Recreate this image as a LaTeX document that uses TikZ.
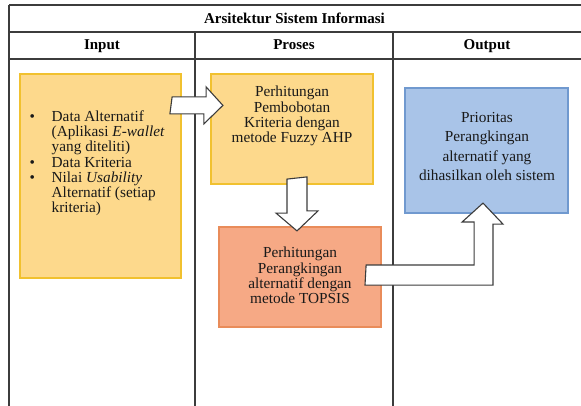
\documentclass[tikz,border=0pt]{standalone}
\usepackage{fontspec}
\setmainfont{Liberation Serif}
\usepackage{tikz}
\usetikzlibrary{calc}
\definecolor{gridline}{HTML}{3C3C3C}
\definecolor{inpfill}{HTML}{FDD98C}
\definecolor{inpdraw}{HTML}{F1C12F}
\definecolor{topfill}{HTML}{F6A985}
\definecolor{topdraw}{HTML}{E98C5A}
\definecolor{outfill}{HTML}{A9C4E8}
\definecolor{outdraw}{HTML}{7099CF}

\tikzset{
  gridrule/.style={draw=gridline, line width=1.1pt},
  headtext/.style={anchor=base, font=\fontsize{15}{15}\selectfont\bfseries},
  stagebox/.style={rectangle, line width=2.2pt, inner sep=0pt},
  stagetext/.style={align=center, font=\fontsize{15.3}{15.2}\selectfont, text=black!90},
  blockarrow/.style={draw=gridline, fill=white, line width=1.1pt, line join=miter}
}

\begin{document}
\begin{tikzpicture}[x=1pt, y=-1pt]
  \useasboundingbox (0,0) rectangle (581,406);

  % Tabel
  \draw[gridrule] (9,5) -- (581,5);
  \draw[gridrule] (9,32) -- (581,32);
  \draw[gridrule] (9,59) -- (581,59);
  \draw[gridrule] (9,5) -- (9,406);
  \foreach \xx in {195,393}
    \draw[gridrule] (\xx,32) -- (\xx,406);

  % Judul dan kolom
  \node[headtext] (judul) at (294.5,23.5) {Arsitektur Sistem Informasi};
  \node[headtext] (hinput) at (102,49.5) {Input};
  \node[headtext] (hproses) at (294,49.5) {Proses};
  \node[headtext] (houtput) at (487,49.5) {Output};

  % Kotak tahapan
  \node[stagebox, fill=inpfill, draw=inpdraw, minimum width=161pt, minimum height=204pt] (inp) at (100.5,176) {};
  \node[stagebox, fill=inpfill, draw=inpdraw, minimum width=162pt, minimum height=110pt] (p1) at (292,129) {};
  \node[stagebox, fill=topfill, draw=topdraw, minimum width=162pt, minimum height=100pt] (p2) at (300,277) {};
  \node[stagebox, fill=outfill, draw=outdraw, minimum width=163pt, minimum height=125pt] (out) at (486.5,150.5) {};

  % Isi kotak
  \node[anchor=west, font=\fontsize{15.3}{15.2}\selectfont, text=black!90, inner sep=0pt] (tinp) at (29.5,164) {%
    \begin{tabular}{@{}p{22pt}@{}l@{}}
      \textbullet & Data Alternatif\\
                  & (Aplikasi \textit{E-wallet}\\
                  & yang diteliti)\\
      \textbullet & Data Kriteria\\
      \textbullet & Nilai \textit{Usability}\\
                  & Alternatif (setiap\\
                  & kriteria)
    \end{tabular}};
  \node[stagetext] (tp1) at (292,116) {Perhitungan\\Pembobotan\\Kriteria dengan\\metode Fuzzy AHP};
  \node[stagetext] (tp2) at (300,275.5) {Perhitungan\\Perangkingan\\alternatif dengan\\metode TOPSIS};
  \node[stagetext, font=\fontsize{15.3}{19.5}\selectfont] (tout) at (487,146.5) {Prioritas\\Perangkingan\\alternatif yang\\dihasilkan oleh sistem};

  % Panah blok
  \draw[blockarrow] ($(inp.north east)+(-10,24)$) -- ++(34,0) -- ++(0,-10)
    -- ($(p1.north west)+(13,32.5)$) -- ++(-19,18.5) -- ++(0,-10) -- ++(-34,0) -- cycle;
  \draw[blockarrow] ($(p1.south)+(-5,-6)$) -- ++(0,34) -- ++(-11,0)
    -- ($(p2.north)+(-3,5)$) -- ++(21,-20) -- ++(-11,0) -- ++(0,-34) -- cycle;
  \draw[blockarrow] ($(p2.east)+(-16,-12)$) -- ++(108,0) -- ++(0,-43) -- ++(-12,0)
    -- ($(out.south)+(-3.5,-11)$) -- ++(20,21) -- ++(-10,0) -- ++(0,61) -- ++(-128,0) -- cycle;
\end{tikzpicture}
\end{document}
